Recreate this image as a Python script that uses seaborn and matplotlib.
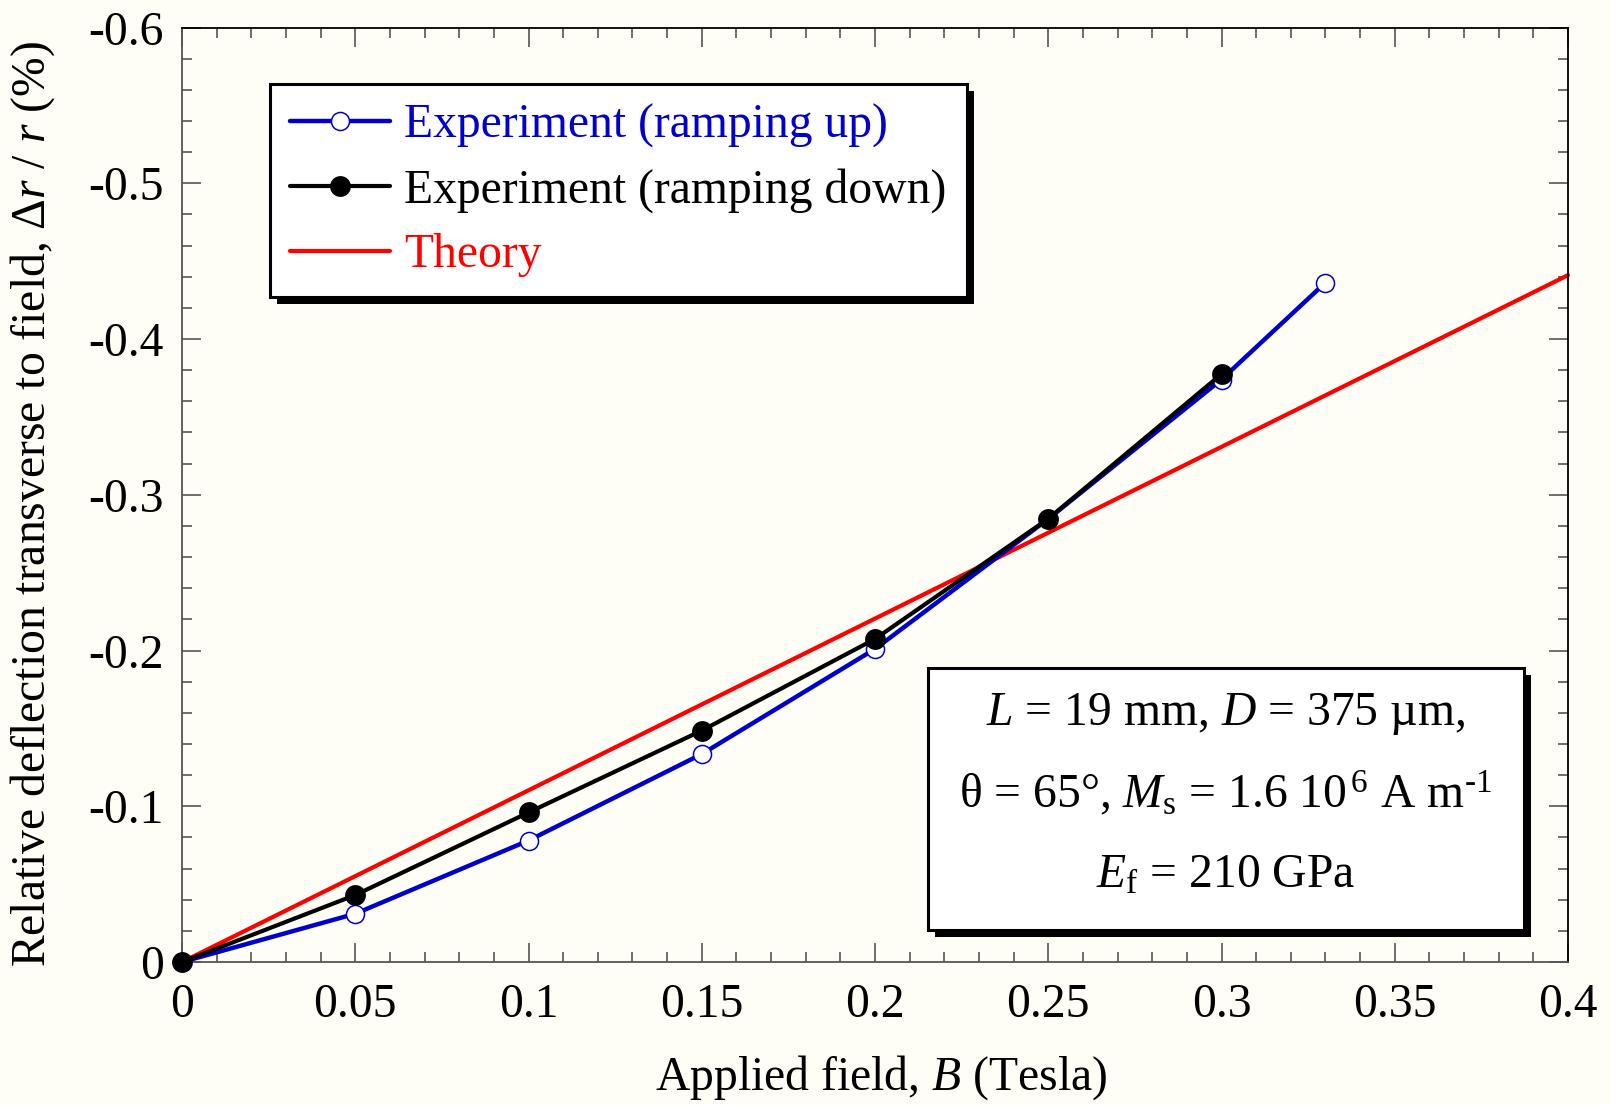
import numpy as np
import pandas as pd
import matplotlib
matplotlib.use("Agg")
import matplotlib.pyplot as plt
import matplotlib.patheffects as pe
from matplotlib.patches import Rectangle
from matplotlib.ticker import MultipleLocator, FuncFormatter
import seaborn as sns

# ---------------- data ----------------
field_up = [0.0, 0.05, 0.10, 0.15, 0.20, 0.25, 0.30, 0.33]
defl_up = [0.0, -0.031, -0.078, -0.1335, -0.201, -0.2845, -0.374, -0.4362]

field_down = [0.0, 0.05, 0.10, 0.15, 0.20, 0.25, 0.30]
defl_down = [0.0, -0.043, -0.096, -0.1486, -0.2074, -0.2846, -0.3775]

field_theory = [0.0, 0.4]
defl_theory = [0.0, -0.441]

label_up = "Experiment (ramping up)"
label_down = "Experiment (ramping down)"
label_theory = "Theory"

x_ticks = [0, 0.05, 0.1, 0.15, 0.2, 0.25, 0.3, 0.35, 0.4]
y_ticks = [0, -0.1, -0.2, -0.3, -0.4, -0.5, -0.6]

BLUE = "#0000CC"
RED = "#FF0000"
BG = "#FEFEF6"
FS = 34.3

sns.set_theme(style="ticks")
plt.rcParams["font.family"] = ["Liberation Serif", "DejaVu Serif"]
plt.rcParams["mathtext.fontset"] = "custom"
plt.rcParams["mathtext.rm"] = "Liberation Serif"
plt.rcParams["mathtext.it"] = "Liberation Serif:italic"
plt.rcParams["mathtext.bf"] = "Liberation Serif:bold"
plt.rcParams["axes.unicode_minus"] = False
plt.rcParams["text.color"] = "black"
plt.rcParams["axes.labelcolor"] = "black"
plt.rcParams["xtick.labelcolor"] = "black"
plt.rcParams["ytick.labelcolor"] = "black"

fig = plt.figure(figsize=(16.11, 11.05), dpi=100, facecolor=BG)
ax = fig.add_axes([0.113, 0.1294, 0.8603, 0.8457])
ax.set_facecolor(BG)

df_up = pd.DataFrame({"B": field_up, "d": defl_up})
df_down = pd.DataFrame({"B": field_down, "d": defl_down})
df_th = pd.DataFrame({"B": field_theory, "d": defl_theory})

sns.lineplot(data=df_th, x="B", y="d", ax=ax, color=RED, lw=3.0,
             sort=False, label=label_theory, zorder=2)
sns.lineplot(data=df_up, x="B", y="d", ax=ax, color=BLUE, lw=3.2,
             marker="o", markersize=13, markerfacecolor="white",
             markeredgecolor=BLUE, markeredgewidth=1.1,
             sort=False, label=label_up, zorder=3)
sns.lineplot(data=df_down, x="B", y="d", ax=ax, color="black", lw=3.0,
             marker="o", markersize=15, markerfacecolor="black",
             markeredgecolor="black", markeredgewidth=0,
             sort=False, label=label_down, zorder=4)

for ln in ax.lines:
    ln.set_clip_on(False)

ax.set_xlim(0, 0.4)
ax.set_ylim(0, -0.6)

ax.set_xticks(x_ticks)
ax.set_yticks(y_ticks)
ax.xaxis.set_minor_locator(MultipleLocator(0.01))
ax.yaxis.set_minor_locator(MultipleLocator(0.02))
ax.xaxis.set_major_formatter(FuncFormatter(lambda v, p: "0" if abs(v) < 1e-9 else f"{v:g}"))
ax.yaxis.set_major_formatter(FuncFormatter(lambda v, p: "0" if abs(v) < 1e-9 else f"{v:.1f}"))

ax.tick_params(which="both", direction="in", top=True, right=True,
               color="#555555", width=1.2)
ax.tick_params(which="major", length=13.5)
ax.tick_params(which="minor", length=7)
ax.tick_params(axis="x", which="major", labelsize=FS, pad=15)
ax.tick_params(axis="y", which="major", labelsize=FS, pad=13)

for s in ["left", "bottom"]:
    ax.spines[s].set_color("#555555")
    ax.spines[s].set_linewidth(1.3)
for s in ["top", "right"]:
    ax.spines[s].set_color("black")
    ax.spines[s].set_linewidth(1.3)

ax.set_xlabel("Applied field, $B$ (Tesla)", fontsize=FS)
ax.set_ylabel(r"Relative deflection transverse to field, $\mathit{\Delta r}$ / $r$ (%)",
              fontsize=FS)
ax.xaxis.set_label_coords(0.5047, -0.098)
ax.yaxis.set_label_coords(-0.0905, 0.4896)

# legend
handles, labels = ax.get_legend_handles_labels()
order = [labels.index(label_up), labels.index(label_down), labels.index(label_theory)]
leg = ax.legend([handles[i] for i in order], [labels[i] for i in order],
                loc="upper left", bbox_to_anchor=(0.0635, 0.9395),
                borderaxespad=0, fontsize=FS, frameon=True, fancybox=False,
                handlelength=2.1, handletextpad=0.3, labelspacing=0.42,
                borderpad=0.42, framealpha=1)
frame = leg.get_frame()
frame.set_facecolor("white")
frame.set_edgecolor("black")
frame.set_linewidth(2.2)
frame.set_path_effects([pe.withSimplePatchShadow(offset=(5, -5), shadow_rgbFace="black", alpha=1.0)])
for txt, col in zip(leg.get_texts(), [BLUE, "black", RED]):
    txt.set_color(col)
leg.set_zorder(10)

# annotation box
box = Rectangle((0.538, 0.0342), 0.430, 0.2804, transform=ax.transAxes,
                facecolor="white", edgecolor="black", lw=2.2, zorder=9, clip_on=False)
box.set_path_effects([pe.withSimplePatchShadow(offset=(5, -5), shadow_rgbFace="black", alpha=1.0)])
ax.add_patch(box)

ann_lines = [
    (r"$L$ = 19 mm, $D$ = 375 µm,", 0.2533),
    ("θ = 65°, $M_{\\mathrm{s}}$ = 1.6 10$^{\\,6}$ A m$^{\u20101}$", 0.1653),
    (r"$E_{\mathrm{f}}$ = 210 GPa", 0.0795),
]
for txt, yy in ann_lines:
    ax.text(0.753, yy, txt, transform=ax.transAxes, ha="center", va="baseline",
            fontsize=FS, zorder=11)

fig.savefig("out.png", dpi=100, facecolor=BG)
